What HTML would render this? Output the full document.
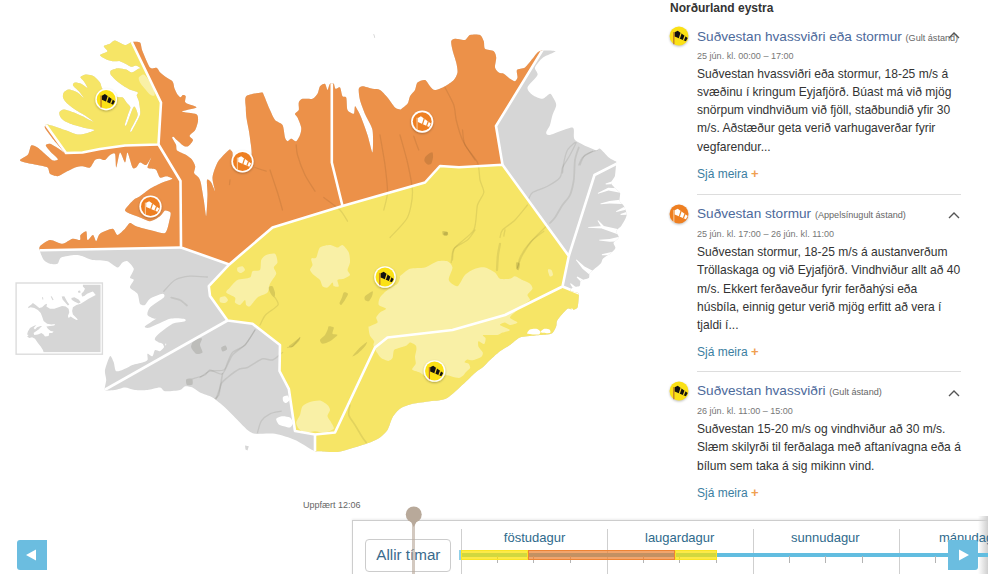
<!DOCTYPE html>
<html><head><meta charset="utf-8"><title>Vidvaranir</title>
<style>
html,body{margin:0;padding:0;background:#fff;}
body{width:992px;height:574px;position:relative;overflow:hidden;font-family:"Liberation Sans",sans-serif;color:#333;}
.abs{position:absolute;white-space:nowrap;}
.h1{left:17px;top:-12.7px;font-size:14.5px;font-weight:bold;color:#45608f;line-height:16px;}
.reg{left:670px;top:1px;font-size:12px;font-weight:bold;color:#333;line-height:14px;}
.ttl{left:697px;font-size:13.6px;color:#4d6a9b;line-height:16px;}
.ttl small{font-size:9.1px;color:#666;}
.dt{left:697px;font-size:9.05px;color:#777;line-height:10px;}
.bd{left:697px;font-size:12.05px;color:#333;line-height:18.25px;}
.more{left:697px;font-size:12px;color:#3b7ea1;line-height:14px;}
.more b{color:#f0a050;font-weight:bold;font-size:13px;}
.hr{position:absolute;left:697px;width:264px;height:1px;background:#ddd;}
.ic{position:absolute;left:668px;}
.chev{position:absolute;left:948px;}
.upd{left:303px;top:500px;font-size:9px;color:#666;line-height:10px;}
.tl{position:absolute;left:352.3px;top:519.6px;width:636px;height:60px;border-top:1.4px solid #cdcdcd;border-left:1.4px solid #cdcdcd;background:#fff;box-shadow:0 -1px 2px rgba(0,0,0,0.08);}
.btn{position:absolute;left:365px;top:539px;width:85.6px;height:32.6px;border:1px solid #ccc;border-radius:4px;box-sizing:border-box;}
.btn span{position:absolute;left:10.3px;top:6.3px;font-size:15.2px;color:#3a6a8c;line-height:18px;white-space:nowrap;}
.day{font-size:13px;color:#2f6a8c;top:529.5px;line-height:15px;}
.sep{position:absolute;width:1.2px;top:529px;height:45px;background:#cfcfcf;}
.tick{position:absolute;width:1px;top:556px;height:7px;background:#b4b4b4;}
.nav{position:absolute;top:540px;width:30px;height:30px;background:#6bbde0;}
</style></head><body>
<svg width="660" height="500" viewBox="0 0 660 500" style="position:absolute;left:0;top:0">
<defs><clipPath id="land"><path d="M20.0,160.0 C20.4,159.0 26.6,156.3 28.0,154.5 C29.4,152.7 30.1,146.4 31.2,145.5 C32.4,144.6 35.6,146.3 37.5,147.5 C39.4,148.7 44.3,153.4 46.2,155.0 C48.2,156.6 51.5,160.0 53.0,160.5 C54.5,161.0 58.2,160.2 58.0,159.2 C57.8,158.2 52.8,154.2 51.2,152.5 C49.7,150.8 45.9,146.6 45.8,145.5 C45.6,144.4 48.4,143.3 50.0,143.8 C51.6,144.2 56.9,147.7 58.8,148.8 C60.6,149.8 65.1,153.6 64.5,152.5 C63.9,151.4 56.2,143.1 53.8,140.0 C51.3,136.9 45.9,129.9 45.0,128.0 C44.1,126.1 45.4,124.7 46.5,124.5 C47.6,124.3 51.4,125.6 53.8,126.2 C56.1,126.9 62.0,129.0 65.0,130.0 C68.0,131.0 74.7,134.1 77.5,134.5 C80.3,134.9 85.4,133.6 87.5,133.0 C89.6,132.4 94.8,130.6 94.5,130.0 C94.2,129.4 87.8,128.7 85.0,128.0 C82.2,127.3 75.2,125.4 72.5,124.5 C69.8,123.6 65.3,121.5 63.8,120.5 C62.2,119.5 60.5,117.3 60.0,116.2 C59.5,115.2 59.0,112.8 59.5,112.0 C60.0,111.2 62.1,109.5 63.8,109.5 C65.4,109.5 70.2,111.2 72.5,112.0 C74.8,112.8 79.8,115.0 82.5,116.2 C85.2,117.5 93.3,122.0 93.8,122.0 C94.2,122.0 88.6,117.8 86.2,116.2 C83.9,114.7 77.5,111.2 75.0,109.5 C72.5,107.8 67.8,104.0 66.2,102.5 C64.8,101.0 63.3,98.8 63.0,97.5 C62.7,96.2 63.0,93.5 63.8,92.5 C64.5,91.5 67.0,89.5 68.8,89.5 C70.5,89.5 75.6,91.4 77.5,92.5 C79.4,93.6 83.5,98.1 83.8,98.0 C84.0,97.9 80.8,93.6 79.5,92.0 C78.2,90.4 73.6,86.7 73.0,85.5 C72.4,84.3 74.0,82.7 75.0,82.5 C76.0,82.3 79.7,83.1 81.2,83.8 C82.8,84.4 87.2,88.3 87.5,88.0 C87.8,87.7 84.6,82.6 83.8,81.2 C82.9,79.9 80.2,77.8 80.5,77.0 C80.8,76.2 84.6,74.6 86.2,74.5 C87.9,74.4 92.0,75.2 93.8,76.2 C95.5,77.2 98.8,80.8 100.0,82.5 C101.2,84.2 101.2,88.1 103.2,89.8 C105.3,91.6 114.0,95.9 116.5,96.8 C118.9,97.8 121.4,96.7 122.8,97.5 C124.1,98.3 126.0,101.9 126.9,103.1 C127.9,104.3 130.2,106.0 130.4,107.3 C130.6,108.6 129.0,111.4 128.3,113.5 C127.6,115.7 125.1,123.3 124.8,124.7 C124.6,126.1 125.6,126.4 126.5,124.7 C127.4,122.9 130.8,113.0 131.8,110.7 C132.8,108.5 133.7,106.6 134.3,106.6 C134.9,106.6 136.3,109.5 136.7,110.7 C137.1,112.0 138.2,113.9 137.4,116.3 C136.6,118.8 131.1,128.4 130.4,130.3 C129.7,132.1 130.7,132.7 131.8,131.0 C132.9,129.2 138.4,118.9 139.5,116.3 C140.5,113.8 140.3,112.7 140.2,110.7 C140.1,108.8 139.2,102.9 138.8,101.0 C138.3,99.1 136.8,96.4 136.7,95.4 C136.6,94.4 138.2,93.4 138.1,92.9 C138.0,92.4 137.0,91.9 136.0,91.5 C135.0,91.1 132.2,90.7 130.4,89.8 C128.7,89.0 124.0,86.3 122.1,85.0 C120.1,83.7 116.5,80.7 115.1,79.4 C113.7,78.1 111.1,75.6 110.6,74.5 C110.1,73.4 110.0,71.4 110.9,70.6 C111.8,69.8 116.0,68.4 117.9,68.2 C119.8,68.1 124.5,69.1 126.2,69.6 C128.0,70.2 130.3,72.5 131.8,72.4 C133.3,72.3 137.0,69.5 138.1,68.9 C139.2,68.4 140.7,68.7 140.5,68.2 C140.2,67.8 137.1,65.6 136.0,65.5 C134.9,65.3 133.2,67.1 131.8,66.8 C130.4,66.6 126.3,64.1 124.8,63.4 C123.4,62.7 120.8,61.8 120.0,61.3 C119.1,60.7 117.6,59.3 117.9,59.2 C118.2,59.1 123.2,60.2 122.5,60.5 C121.8,60.8 114.7,61.5 112.5,61.2 C110.3,61.0 106.6,59.5 105.0,58.8 C103.4,58.0 99.7,55.9 100.0,55.0 C100.3,54.1 107.0,52.3 107.5,51.2 C108.0,50.2 103.4,47.2 103.8,46.2 C104.1,45.3 108.6,44.5 110.0,43.8 C111.4,43.0 113.1,40.3 115.0,40.5 C116.9,40.7 122.9,44.8 125.0,45.0 C127.1,45.2 129.9,42.3 131.8,42.0 C133.6,41.7 138.7,41.3 140.0,42.5 C141.3,43.7 141.2,48.1 142.5,51.2 C143.8,54.4 148.2,65.4 150.0,67.5 C151.8,69.6 155.5,67.3 156.8,67.9 C158.1,68.5 159.0,71.3 160.2,72.4 C161.3,73.6 164.3,75.8 165.8,77.0 C167.4,78.1 171.5,80.1 172.6,81.5 C173.7,82.9 173.9,86.7 174.4,88.3 C175.0,89.8 176.4,92.8 177.1,93.9 C177.9,95.1 179.8,97.2 180.5,97.3 C181.2,97.5 182.2,95.2 182.8,95.1 C183.5,94.9 185.5,95.4 185.7,96.2 C186.0,97.0 184.7,100.9 185.1,101.9 C185.4,102.8 187.0,103.4 188.5,104.1 C189.9,104.8 197.2,106.6 196.4,107.5 C195.5,108.4 181.7,110.7 181.7,111.6 C181.7,112.4 194.3,113.1 196.4,114.3 C198.4,115.5 198.1,119.1 198.0,121.1 C197.8,123.1 196.3,128.3 195.2,130.1 C194.2,132.0 189.9,134.5 189.6,135.8 C189.3,137.1 193.1,139.0 193.0,140.3 C192.8,141.6 189.6,145.3 188.5,146.0 C187.3,146.7 185.4,146.7 183.9,146.0 C182.5,145.3 178.4,141.4 177.1,140.3 C175.9,139.2 174.4,137.2 173.8,136.9 C173.1,136.6 171.9,137.1 172.2,138.1 C172.5,139.0 175.4,143.3 176.0,144.8 C176.6,146.4 175.9,149.2 177.1,150.5 C178.4,151.8 184.4,153.9 186.2,155.0 C188.0,156.2 190.7,158.1 191.9,159.5 C193.0,161.0 195.0,164.6 195.2,166.3 C195.5,168.0 193.7,171.7 194.1,173.1 C194.5,174.5 197.8,176.4 198.6,177.6 C199.5,178.9 200.3,180.5 200.9,183.3 C201.5,186.1 203.1,195.9 203.8,200.0 C204.4,204.1 205.8,216.9 206.2,216.2 C206.7,215.6 207.4,199.5 207.5,195.0 C207.6,190.5 206.5,181.6 207.0,180.0 C207.5,178.4 210.2,181.1 211.2,182.5 C212.2,183.9 214.8,191.9 215.0,191.2 C215.2,190.6 212.2,181.1 212.5,177.5 C212.8,173.9 215.8,165.6 217.5,162.5 C219.2,159.4 224.5,154.2 226.2,152.5 C228.0,150.8 231.4,148.8 231.2,148.8 C231.1,148.8 225.2,152.3 225.0,152.5 C224.8,152.7 229.1,150.0 230.0,150.0 C230.9,150.0 232.1,151.1 232.5,152.3 C232.8,153.4 232.4,157.7 233.0,159.2 C233.5,160.8 235.0,164.1 236.8,164.8 C238.6,165.5 245.5,165.5 247.3,164.8 C249.1,164.1 250.6,160.8 251.1,159.2 C251.6,157.7 251.7,154.2 251.6,152.3 C251.6,150.3 251.1,146.2 250.7,143.6 C250.4,140.9 249.6,134.6 249.0,131.4 C248.5,128.1 246.8,120.4 246.4,117.4 C246.0,114.4 245.8,110.1 245.8,107.5 C245.7,104.9 244.3,98.1 246.2,96.2 C248.2,94.4 259.1,92.7 261.2,92.5 C263.4,92.3 262.7,92.8 263.8,95.0 C264.8,97.2 268.6,106.9 270.0,110.0 C271.4,113.1 273.4,118.1 275.0,120.0 C276.6,121.9 281.2,122.8 282.5,125.0 C283.8,127.2 284.4,135.5 285.0,137.5 C285.6,139.5 286.7,141.1 287.5,141.2 C288.3,141.4 290.2,138.8 291.2,138.8 C292.3,138.8 295.2,141.7 296.2,141.2 C297.3,140.8 299.4,136.7 300.0,135.0 C300.6,133.3 301.6,129.7 301.2,127.5 C300.9,125.3 298.3,119.2 297.5,117.5 C296.7,115.8 294.8,114.7 295.0,113.8 C295.2,112.8 298.3,111.4 298.8,110.0 C299.2,108.6 298.3,103.9 298.8,102.5 C299.2,101.1 300.8,99.2 302.5,98.8 C304.2,98.3 310.6,99.4 312.5,98.8 C314.4,98.1 316.6,95.3 317.5,93.8 C318.4,92.2 319.1,87.5 320.0,86.2 C320.9,85.0 324.1,83.3 325.0,83.8 C325.9,84.2 326.9,90.0 327.5,90.0 C328.1,90.0 329.2,84.5 330.0,83.8 C330.8,83.0 333.1,83.1 333.8,83.8 C334.4,84.4 334.7,88.3 335.5,88.8 C336.3,89.2 339.1,86.6 340.0,87.5 C340.9,88.4 341.7,95.0 342.5,96.2 C343.3,97.5 345.6,95.8 346.2,97.5 C346.9,99.2 346.6,108.0 347.5,110.0 C348.4,112.0 352.8,114.2 353.8,113.8 C354.7,113.3 354.5,106.7 355.0,106.2 C355.5,105.8 356.7,108.6 357.5,110.0 C358.3,111.4 360.0,114.4 361.2,117.5 C362.5,120.6 366.1,130.6 367.5,135.0 C368.9,139.4 371.9,153.1 372.5,152.5 C373.1,151.9 373.4,134.7 372.5,130.0 C371.6,125.3 367.1,118.8 365.5,115.0 C363.9,111.2 360.8,103.3 360.0,100.0 C359.2,96.7 358.4,90.5 358.8,88.8 C359.1,87.0 360.8,86.2 362.5,86.2 C364.2,86.2 370.3,88.3 372.5,88.8 C374.7,89.2 378.1,88.9 380.0,90.0 C381.9,91.1 385.6,95.3 387.5,97.5 C389.4,99.7 393.4,106.0 395.0,107.5 C396.6,109.0 399.4,109.2 400.0,109.5 C400.6,109.8 399.1,110.7 400.0,110.0 C400.9,109.3 406.2,105.5 407.5,103.8 C408.8,102.0 409.1,98.0 410.0,96.2 C410.9,94.5 414.1,91.7 415.0,90.0 C415.9,88.3 416.2,83.8 417.5,82.5 C418.8,81.2 423.4,79.5 425.0,80.0 C426.6,80.5 428.8,85.0 430.0,86.2 C431.2,87.5 433.1,90.0 435.0,90.0 C436.9,90.0 442.7,87.5 445.0,86.2 C447.3,85.0 452.2,81.7 453.8,80.0 C455.3,78.3 457.2,74.7 457.5,72.5 C457.8,70.3 456.9,65.3 456.2,62.5 C455.6,59.7 453.1,52.7 452.5,50.0 C451.9,47.3 450.9,42.7 451.2,41.2 C451.6,39.8 453.3,38.9 455.0,38.8 C456.7,38.6 463.1,40.5 465.0,40.0 C466.9,39.5 468.1,35.6 470.0,35.0 C471.9,34.4 478.3,34.2 480.0,35.0 C481.7,35.8 483.1,39.5 483.8,41.2 C484.4,43.0 483.8,47.5 485.0,48.8 C486.2,50.0 492.3,50.2 493.8,51.2 C495.2,52.3 496.1,55.5 496.2,57.5 C496.4,59.5 494.7,65.6 495.0,67.5 C495.3,69.4 497.7,71.7 498.8,72.5 C499.8,73.3 502.3,73.0 503.8,73.8 C505.2,74.5 508.6,77.8 510.0,78.8 C511.4,79.7 514.1,81.4 515.0,81.2 C515.9,81.1 517.2,78.9 517.5,77.5 C517.8,76.1 516.1,71.2 517.0,70.0 C517.9,68.8 523.1,68.9 525.0,67.5 C526.9,66.1 530.9,60.6 532.5,58.8 C534.1,56.9 536.2,53.5 537.5,52.5 C538.8,51.5 540.2,50.7 542.5,50.5 C544.8,50.3 555.4,50.4 555.5,51.2 C555.6,52.1 545.6,55.5 543.0,57.5 C540.4,59.5 535.7,65.3 535.0,67.5 C534.3,69.7 538.4,72.5 537.5,75.0 C536.6,77.5 528.1,85.0 527.5,87.5 C526.9,90.0 530.6,93.6 532.5,95.0 C534.4,96.4 540.3,98.9 542.5,98.8 C544.7,98.6 548.7,93.9 550.0,93.8 C551.3,93.6 552.2,96.1 553.0,97.5 C553.8,98.9 556.3,102.8 556.2,105.0 C556.2,107.2 553.3,112.5 552.5,115.0 C551.7,117.5 550.8,122.8 550.0,125.0 C549.2,127.2 546.2,131.2 546.2,132.5 C546.2,133.8 546.7,135.6 550.0,135.0 C553.3,134.4 569.4,126.9 572.5,127.5 C575.6,128.1 572.2,137.2 575.0,140.0 C577.8,142.8 591.9,148.9 595.0,150.0 C598.1,151.1 598.3,147.8 600.0,148.8 C601.7,149.7 606.8,155.9 608.8,157.5 C610.7,159.1 614.6,160.7 615.5,161.2 C616.4,161.8 616.3,159.9 616.2,161.8 C616.1,163.6 615.5,173.5 614.9,176.1 C614.2,178.7 610.8,181.0 611.0,182.7 C611.1,184.3 615.0,187.9 616.2,189.2 C617.3,190.5 619.7,191.6 620.1,193.1 C620.5,194.6 619.1,199.3 619.6,201.0 C620.1,202.6 623.1,204.4 624.0,206.2 C624.9,208.0 627.0,212.9 626.6,215.3 C626.3,217.8 622.7,223.8 621.4,225.8 C620.1,227.7 616.5,229.5 616.2,231.0 C615.9,232.5 619.1,236.1 618.8,237.5 C618.5,239.0 614.0,241.5 613.6,242.8 C613.1,244.1 615.7,246.7 615.4,248.0 C615.1,249.3 612.5,251.9 611.0,253.2 C609.4,254.5 604.4,257.1 603.1,258.4 C601.8,259.7 602.1,261.9 600.5,263.7 C598.9,265.5 591.5,271.0 590.0,272.8 C588.6,274.6 589.9,277.1 588.7,278.0 C587.6,279.0 582.0,279.7 580.9,280.7 C579.8,281.6 580.6,285.1 579.6,285.9 C578.6,286.7 574.2,286.5 573.1,287.2 C571.9,287.8 569.8,290.4 570.5,291.1 C571.1,291.9 577.3,292.5 578.3,293.2 C579.3,293.8 578.8,294.5 578.8,296.2 C578.7,298.0 578.3,305.8 577.5,307.5 C576.7,309.2 573.8,309.8 572.5,310.0 C571.2,310.2 569.4,307.5 567.5,308.8 C565.6,310.0 558.9,317.8 557.5,320.0 C556.1,322.2 556.9,324.6 556.2,326.2 C555.6,327.9 553.6,332.0 552.5,333.0 C551.4,334.0 549.7,334.2 547.5,334.5 C545.3,334.8 538.4,335.1 535.0,335.5 C531.6,335.9 523.1,336.3 520.0,337.5 C516.9,338.7 512.5,343.3 510.0,345.0 C507.5,346.7 502.5,349.4 500.0,351.2 C497.5,353.1 492.2,358.0 490.0,360.0 C487.8,362.0 484.4,365.9 482.5,367.5 C480.6,369.1 479.3,369.2 475.0,373.0 C470.7,376.8 453.6,394.0 448.0,397.5 C442.4,401.0 434.4,400.5 430.0,401.2 C425.6,402.0 416.2,402.8 412.5,403.8 C408.8,404.7 402.5,407.0 400.0,408.8 C397.5,410.5 394.1,414.8 392.5,417.5 C390.9,420.2 389.1,427.5 387.5,430.0 C385.9,432.5 382.2,435.9 380.0,437.5 C377.8,439.1 373.8,441.1 370.0,442.5 C366.2,443.9 354.1,447.6 350.0,448.8 C345.9,449.9 341.2,451.7 337.5,452.0 C333.8,452.3 322.8,451.3 320.0,451.2 C317.2,451.2 316.2,451.6 315.0,451.2 C313.8,450.9 312.5,450.2 310.0,448.8 C307.5,447.3 299.4,441.9 295.0,440.0 C290.6,438.1 280.0,434.5 275.0,433.8 C270.0,433.0 258.4,434.2 255.0,433.8 C251.6,433.3 249.7,431.7 247.5,430.0 C245.3,428.3 240.3,422.8 237.5,420.0 C234.7,417.2 228.1,410.3 225.0,407.5 C221.9,404.7 215.6,399.4 212.5,397.5 C209.4,395.6 202.5,393.8 200.0,392.5 C197.5,391.2 194.4,388.3 192.5,387.5 C190.6,386.7 186.6,385.9 185.0,386.2 C183.4,386.6 182.5,389.4 180.0,390.0 C177.5,390.6 167.5,391.6 165.0,391.2 C162.5,390.9 162.2,387.7 160.0,387.5 C157.8,387.3 150.6,389.7 147.5,390.0 C144.4,390.3 137.8,390.3 135.0,390.0 C132.2,389.7 127.5,387.5 125.0,387.5 C122.5,387.5 117.5,389.7 115.0,390.0 C112.5,390.3 106.1,391.2 105.0,390.0 C103.9,388.8 106.2,382.5 106.2,380.0 C106.2,377.5 104.5,373.0 105.0,370.0 C105.5,367.0 108.9,357.2 110.0,356.2 C111.1,355.3 113.0,360.6 113.8,362.5 C114.5,364.4 114.8,370.5 116.2,371.2 C117.7,372.0 123.0,369.5 125.0,368.8 C127.0,368.0 130.3,365.8 132.5,365.0 C134.7,364.2 140.6,363.1 142.5,362.5 C144.4,361.9 146.9,361.1 147.5,360.0 C148.1,358.9 146.9,354.2 147.5,353.8 C148.1,353.3 151.6,356.7 152.5,356.2 C153.4,355.8 154.1,350.6 155.0,350.0 C155.9,349.4 158.9,351.6 160.0,351.2 C161.1,350.9 163.0,348.4 163.8,347.5 C164.5,346.6 166.9,344.4 166.2,343.8 C165.6,343.1 160.0,343.3 158.8,342.5 C157.5,341.7 155.5,339.1 156.2,337.5 C157.0,335.9 163.9,328.7 165.0,330.0 C166.1,331.3 165.3,346.3 165.0,348.0 C164.7,349.7 163.8,344.8 162.5,343.8 C161.2,342.8 155.6,341.1 155.0,340.0 C154.4,338.9 155.3,337.0 157.5,335.0 C159.7,333.0 169.1,325.5 172.5,323.8 C175.9,322.0 183.6,321.9 185.0,321.2 C186.4,320.6 185.6,319.1 183.8,318.8 C181.9,318.4 174.2,317.7 170.0,318.8 C165.8,319.8 153.1,326.6 150.0,327.5 C146.9,328.4 143.8,327.7 145.0,326.2 C146.2,324.8 158.8,317.2 160.0,316.2 C161.2,315.3 156.6,318.9 155.0,318.8 C153.4,318.6 148.1,316.4 147.5,315.0 C146.9,313.6 148.0,309.7 150.0,307.5 C152.0,305.3 162.2,299.2 163.8,297.5 C165.3,295.8 164.2,293.6 162.5,293.8 C160.8,293.9 152.2,297.3 150.0,298.8 C147.8,300.2 146.2,304.4 145.0,305.0 C143.8,305.6 140.9,305.2 140.0,303.8 C139.1,302.3 138.8,295.8 137.5,293.8 C136.2,291.7 130.5,289.2 130.0,287.5 C129.5,285.8 133.8,281.2 133.8,280.0 C133.8,278.8 130.0,278.9 130.0,277.5 C130.0,276.1 134.1,270.8 133.8,268.8 C133.4,266.7 128.9,262.0 127.5,261.2 C126.1,260.5 123.8,261.7 122.5,262.5 C121.2,263.3 119.4,267.7 117.5,267.5 C115.6,267.3 110.6,262.2 107.5,261.2 C104.4,260.3 95.6,260.6 92.5,260.0 C89.4,259.4 84.7,256.9 82.5,256.2 C80.3,255.6 77.7,254.8 75.0,255.0 C72.3,255.2 63.4,256.4 61.2,257.5 C59.1,258.6 58.9,263.0 57.5,263.8 C56.1,264.5 51.7,264.2 50.0,263.8 C48.3,263.3 45.0,261.6 43.8,260.0 C42.5,258.4 40.5,253.0 40.0,251.2 C39.5,249.5 38.8,247.7 40.0,246.2 C41.2,244.8 47.2,240.3 50.0,240.0 C52.8,239.7 59.7,243.9 62.5,243.8 C65.3,243.6 70.3,239.2 72.5,238.8 C74.7,238.3 79.0,240.5 80.0,240.0 C81.0,239.5 79.7,236.1 80.5,235.0 C81.3,233.9 85.4,230.6 86.2,231.2 C87.1,231.9 86.7,239.5 87.5,240.0 C88.3,240.5 91.9,234.8 93.0,235.0 C94.1,235.2 95.4,241.4 96.2,241.2 C97.1,241.1 98.0,235.3 100.0,233.8 C102.0,232.2 110.3,228.6 112.5,228.8 C114.7,228.9 115.9,235.0 117.5,235.0 C119.1,235.0 123.4,230.2 125.0,228.8 C126.6,227.2 128.6,223.3 130.0,223.0 C131.4,222.7 133.8,225.4 136.2,226.2 C138.8,227.1 146.4,229.2 150.0,230.0 C153.6,230.8 162.6,234.2 165.0,233.0 C167.4,231.8 168.8,222.6 169.5,220.0 C170.2,217.4 171.1,213.7 170.5,212.5 C169.9,211.3 166.3,210.0 165.0,210.5 C163.7,211.0 161.9,214.9 160.0,216.2 C158.1,217.6 152.5,221.1 150.0,221.2 C147.5,221.4 142.5,218.4 140.0,217.5 C137.5,216.6 131.9,214.6 130.0,213.8 C128.1,212.9 125.2,211.6 125.0,210.5 C124.8,209.4 127.5,206.5 128.8,205.0 C130.0,203.5 133.6,199.8 135.0,198.8 C136.4,197.7 138.1,197.5 140.0,196.2 C141.9,195.0 147.2,190.5 150.0,188.8 C152.8,187.0 159.7,183.8 162.5,182.5 C165.3,181.2 172.0,179.5 172.5,178.8 C173.0,178.0 167.8,176.4 166.2,176.2 C164.7,176.1 161.2,178.3 160.0,177.5 C158.8,176.7 157.2,171.1 156.2,170.0 C155.3,168.9 153.6,169.1 152.5,168.8 C151.4,168.4 147.7,168.9 147.5,167.5 C147.3,166.1 151.4,157.8 151.2,157.5 C151.1,157.2 147.7,164.4 146.2,165.0 C144.8,165.6 141.2,162.2 140.0,162.5 C138.8,162.8 137.2,166.9 136.2,167.5 C135.3,168.1 133.6,169.4 132.5,167.5 C131.4,165.6 128.4,153.1 127.5,152.5 C126.6,151.9 125.9,162.5 125.0,162.5 C124.1,162.5 121.1,151.9 120.0,152.5 C118.9,153.1 116.9,167.3 116.2,167.5 C115.6,167.7 115.8,155.3 115.0,153.8 C114.2,152.2 111.2,154.2 110.0,155.0 C108.8,155.8 106.2,159.5 105.0,160.0 C103.8,160.5 101.2,158.8 100.0,158.8 C98.8,158.8 96.2,158.9 95.0,160.0 C93.8,161.1 91.6,166.7 90.0,167.5 C88.4,168.3 84.4,166.2 82.5,166.2 C80.6,166.2 77.2,166.7 75.0,167.5 C72.8,168.3 67.2,171.4 65.0,172.5 C62.8,173.6 59.4,176.1 57.5,176.2 C55.6,176.4 51.2,174.8 50.0,173.8 C48.8,172.7 49.1,168.6 47.5,167.5 C45.9,166.4 40.3,165.6 37.5,165.0 C34.7,164.4 27.2,163.1 25.0,162.5 C22.8,161.9 19.6,161.0 20.0,160.0Z"/><path d="M245.0,445.5 L248.8,446.2 L247.5,450.5 L245.5,449.5Z"/></clipPath>
<filter id="sh" x="-30%" y="-30%" width="160%" height="160%"><feDropShadow dx="0" dy="1" stdDeviation="0.8" flood-color="#000" flood-opacity="0.3"/></filter>
</defs>
<g clip-path="url(#land)">
<rect x="0" y="0" width="660" height="500" fill="#d6d6d6"/>
<path d="M131.8,42.0 L161.0,102.5 L158.5,144.5 L125.0,145.5 L100.0,149.0 L82.5,152.5 L66.0,153.0 L46.0,125.0 L0.0,60.0 L0.0,0.0 L118.0,0.0Z" fill="#f6e566"/>
<path d="M158.5,144.5 L180.5,181.0 L181.0,247.5 L0.0,250.5 L0.0,60.0 L46.0,125.0 L66.0,153.0 L82.5,152.5 L100.0,149.0 L125.0,145.5Z" fill="#ec9149"/>
<path d="M118.0,0.0 L131.8,42.0 L161.0,102.5 L158.5,144.5 L180.5,181.0 L181.0,247.5 L229.3,264.4 L272.5,227.5 L342.5,206.0 L331.8,162.5 L331.8,0.0Z" fill="#ec9149"/>
<path d="M331.8,0.0 L331.8,162.5 L342.5,206.0 L425.0,182.5 L440.0,166.0 L459.0,167.2 L502.5,164.8 L496.0,126.0 L545.0,46.0 L560.0,0.0Z" fill="#ec9149"/>
<path d="M229.3,264.4 L272.5,227.5 L342.5,206.0 L425.0,182.5 L440.0,166.0 L459.0,167.2 L502.5,164.8 L568.8,256.0 L562.5,286.5 L505.0,315.0 L452.5,330.0 L387.5,337.5 L375.0,347.5 L335.0,432.5 L315.0,434.5 L295.0,431.0 L288.8,388.8 L279.5,371.0 L280.0,345.0 L252.5,323.8 L227.5,320.5 L210.0,296.0 L208.8,286.2Z" fill="#f6e566"/>
<path d="M562.5,286.5 L505.0,315.0 L452.5,330.0 L387.5,337.5 L375.0,347.5 L335.0,432.5 L315.0,434.5 L315.0,470.0 L600.0,470.0 L600.0,300.0Z" fill="#f6e566"/>
<path d="M275.0,253.8 C276.4,254.7 277.7,260.8 277.5,262.5 C277.3,264.2 273.9,266.1 273.8,267.5 C273.6,268.9 276.7,271.7 276.2,273.8 C275.8,275.8 271.1,281.4 270.0,283.8 C268.9,286.1 269.1,290.8 267.5,292.5 C265.9,294.2 259.7,295.8 257.5,297.5 C255.3,299.2 251.4,305.3 250.0,306.2 C248.6,307.2 246.9,305.8 246.2,305.0 C245.6,304.2 245.8,300.0 245.0,300.0 C244.2,300.0 241.2,304.7 240.0,305.0 C238.8,305.3 235.6,303.4 235.0,302.5 C234.4,301.6 236.1,298.8 235.0,297.5 C233.9,296.2 226.9,293.8 226.2,292.5 C225.6,291.2 228.6,289.1 230.0,287.5 C231.4,285.9 235.0,281.2 237.5,280.0 C240.0,278.8 248.1,278.6 250.0,277.5 C251.9,276.4 251.2,272.2 252.5,271.2 C253.8,270.3 258.9,271.4 260.0,270.0 C261.1,268.6 260.5,261.9 261.2,260.0 C262.0,258.1 264.5,255.8 266.2,255.0 C268.0,254.2 273.6,252.8 275.0,253.8Z" fill="#f9f0a6"/>
<path d="M237.5,267.5 C238.1,266.9 241.6,265.9 242.5,266.2 C243.4,266.6 245.2,269.2 245.0,270.0 C244.8,270.8 242.2,272.8 241.2,273.0 C240.3,273.2 238.0,271.9 237.5,271.2 C237.0,270.6 236.9,268.1 237.5,267.5Z" fill="#f9f0a6"/>
<path d="M220.0,297.5 C220.6,296.8 224.0,295.9 225.0,296.2 C226.0,296.6 228.0,299.2 228.0,300.0 C228.0,300.8 226.0,302.8 225.0,303.0 C224.0,303.2 220.6,302.7 220.0,302.0 C219.4,301.3 219.4,298.2 220.0,297.5Z" fill="#f9f0a6"/>
<path d="M320.0,247.5 C321.7,245.9 327.8,245.0 330.0,245.0 C332.2,245.0 335.9,247.5 337.5,247.5 C339.1,247.5 341.1,244.4 342.5,245.0 C343.9,245.6 347.8,250.3 348.8,252.5 C349.7,254.7 350.2,260.3 350.0,262.5 C349.8,264.7 347.5,268.4 347.5,270.0 C347.5,271.6 350.5,273.9 350.0,275.0 C349.5,276.1 345.3,278.1 343.8,278.8 C342.2,279.4 338.1,279.1 337.5,280.0 C336.9,280.9 339.2,285.5 338.8,286.2 C338.3,287.0 334.5,286.7 333.8,286.2 C333.0,285.8 333.3,282.3 332.5,282.5 C331.7,282.7 328.8,287.0 327.5,287.5 C326.2,288.0 323.4,287.2 322.5,286.2 C321.6,285.3 321.1,281.4 320.0,280.0 C318.9,278.6 315.0,276.2 313.8,275.0 C312.5,273.8 310.2,271.2 310.0,270.0 C309.8,268.8 312.3,266.4 312.5,265.0 C312.7,263.6 310.8,259.7 311.2,258.8 C311.7,257.8 315.2,258.9 316.2,257.5 C317.3,256.1 318.3,249.1 320.0,247.5Z" fill="#f9f0a6"/>
<path d="M400.0,277.5 C399.7,278.4 399.1,282.2 397.5,283.8 C395.9,285.3 389.7,288.3 387.5,290.0 C385.3,291.7 381.1,295.6 380.0,297.5 C378.9,299.4 378.0,303.6 378.8,305.0 C379.5,306.4 386.1,307.8 386.2,308.8 C386.4,309.7 381.2,311.4 380.0,312.5 C378.8,313.6 376.6,316.2 376.2,317.5 C375.9,318.8 378.3,321.4 377.5,322.5 C376.7,323.6 371.1,325.7 370.0,326.2 C368.9,326.8 368.5,325.9 368.5,327.1 C368.5,328.2 369.2,333.8 369.9,335.5 C370.6,337.3 373.7,339.9 374.1,341.2 C374.6,342.4 373.1,344.0 373.4,345.4 C373.8,346.8 376.0,350.9 376.9,352.5 C377.9,354.0 379.8,357.0 381.2,358.1 C382.6,359.2 386.8,360.9 388.2,360.9 C389.6,360.9 391.8,359.4 392.5,358.1 C393.2,356.8 393.2,351.6 393.9,350.3 C394.6,349.1 396.5,348.8 398.1,348.2 C399.7,347.6 405.1,346.1 406.6,345.4 C408.1,344.7 409.0,342.6 410.1,342.6 C411.2,342.6 414.9,344.5 415.7,345.4 C416.5,346.3 416.5,348.2 416.4,349.6 C416.4,351.0 415.1,354.9 415.0,356.7 C414.9,358.5 416.1,362.2 415.7,363.7 C415.4,365.3 411.8,368.3 412.2,369.4 C412.7,370.5 417.5,371.4 419.3,372.2 C421.0,373.0 423.2,375.4 426.3,375.7 C429.5,376.1 441.5,374.9 444.7,375.0 C447.8,375.1 450.0,376.1 451.7,376.4 C453.5,376.8 457.4,377.9 458.8,377.9 C460.2,377.8 462.1,376.4 463.0,375.7 C463.9,375.0 465.0,373.2 465.8,372.2 C466.7,371.2 469.7,369.0 470.1,368.0 C470.4,366.9 469.4,364.5 468.7,363.7 C468.0,363.0 464.6,362.9 464.4,362.3 C464.3,361.8 466.2,359.8 467.3,359.5 C468.3,359.2 471.1,360.6 472.9,360.2 C474.7,359.9 480.1,357.7 481.4,356.7 C482.6,355.7 483.1,353.7 482.8,352.5 C482.4,351.2 479.1,348.2 478.5,346.8 C478.0,345.4 477.8,341.5 478.5,341.2 C479.2,340.8 483.3,344.3 484.2,344.0 C485.1,343.6 485.8,339.4 485.6,338.3 C485.4,337.3 482.9,335.9 482.8,335.5 C482.7,335.1 483.2,335.1 485.0,335.0 C486.8,334.9 495.3,335.3 497.5,335.0 C499.7,334.7 500.9,333.1 502.5,332.5 C504.1,331.9 510.3,330.9 510.0,330.0 C509.7,329.1 500.6,325.9 500.0,325.0 C499.4,324.1 503.8,322.5 505.0,322.5 C506.2,322.5 508.4,325.0 510.0,325.0 C511.6,325.0 517.5,323.4 517.5,322.5 C517.5,321.6 510.0,319.1 510.0,317.5 C510.0,315.9 515.9,311.6 517.5,310.0 C519.1,308.4 520.9,306.2 522.5,305.0 C524.1,303.8 529.4,301.2 530.0,300.0 C530.6,298.8 527.2,296.4 527.5,295.0 C527.8,293.6 532.2,290.2 532.5,288.8 C532.8,287.3 531.2,284.8 530.0,283.8 C528.8,282.7 524.4,280.9 522.5,280.0 C520.6,279.1 516.6,276.4 515.0,276.2 C513.4,276.1 511.9,278.4 510.0,278.8 C508.1,279.1 501.9,279.5 500.0,278.8 C498.1,278.0 496.9,273.9 495.0,272.5 C493.1,271.1 487.5,268.0 485.0,267.5 C482.5,267.0 477.5,267.8 475.0,268.8 C472.5,269.7 467.2,272.8 465.0,275.0 C462.8,277.2 459.5,285.6 457.5,286.2 C455.5,286.9 449.4,282.3 448.8,280.0 C448.1,277.7 452.7,269.8 452.5,267.5 C452.3,265.2 449.4,262.0 447.5,261.2 C445.6,260.5 440.3,260.5 437.5,261.2 C434.7,262.0 428.4,266.6 425.0,267.5 C421.6,268.4 413.1,267.7 410.0,268.8 C406.9,269.8 401.2,275.2 400.0,276.2 C398.8,277.3 400.3,276.6 400.0,277.5Z" fill="#f9f0a6"/>
<path d="M296.2,422.5 C296.4,420.8 299.2,417.0 300.0,415.0 C300.8,413.0 301.2,407.9 302.5,406.2 C303.8,404.6 307.8,402.7 310.0,402.0 C312.2,401.3 317.8,400.1 320.0,400.5 C322.2,400.9 326.2,403.8 327.5,405.0 C328.8,406.2 330.0,408.6 330.0,410.0 C330.0,411.4 327.3,414.7 327.5,416.2 C327.7,417.8 330.5,420.9 331.2,422.5 C332.0,424.1 334.5,427.5 333.8,428.8 C333.0,430.0 327.3,432.2 325.0,432.5 C322.7,432.8 317.5,431.2 315.0,431.2 C312.5,431.2 307.0,432.8 305.0,432.5 C303.0,432.2 299.8,430.0 298.8,428.8 C297.7,427.5 296.1,424.2 296.2,422.5Z" fill="#f9f0a6"/>
<path d="M138.8,77.5 C139.2,76.5 142.5,74.2 143.8,74.5 C145.0,74.8 147.5,78.2 148.8,80.0 C150.0,81.8 153.0,86.8 153.8,88.8 C154.5,90.7 155.0,94.8 154.5,95.5 C154.0,96.2 151.3,95.5 150.0,94.5 C148.7,93.5 145.0,89.0 143.8,87.5 C142.5,86.0 140.6,83.8 140.0,82.5 C139.4,81.2 138.3,78.5 138.8,77.5Z" fill="#f9f0a6"/>
<path d="M548.0,269.5 C548.4,269.1 550.9,269.3 551.5,270.0 C552.1,270.7 553.2,274.2 553.0,275.0 C552.8,275.8 550.6,276.8 550.0,276.5 C549.4,276.2 548.8,273.9 548.5,273.0 C548.2,272.1 547.6,269.9 548.0,269.5Z" fill="#f9f0a6"/>
<path d="M276.2,418.8 C276.7,417.7 280.8,416.4 282.5,416.2 C284.2,416.1 288.7,416.7 290.0,417.5 C291.3,418.3 293.0,421.8 293.0,423.0 C293.0,424.2 291.2,427.1 290.0,427.5 C288.8,427.9 285.2,426.6 283.8,426.2 C282.3,425.9 279.7,425.4 278.8,424.5 C277.8,423.6 275.8,419.8 276.2,418.8Z" fill="#fff"/>
<path d="M283.0,397.0 C283.5,396.3 286.7,395.1 287.5,395.5 C288.3,395.9 289.7,399.1 289.5,400.0 C289.3,400.9 287.0,402.8 286.2,403.0 C285.5,403.2 283.7,402.0 283.2,401.2 C282.8,400.5 282.5,397.7 283.0,397.0Z" fill="#fff"/>
<path d="M268.8,287.0 C269.1,286.4 271.7,285.6 272.5,286.2 C273.3,286.9 274.8,291.1 275.0,292.5 C275.2,293.9 274.9,297.1 274.5,297.5 C274.1,297.9 272.6,296.3 272.0,295.5 C271.4,294.7 269.9,292.3 269.5,291.2 C269.1,290.2 268.4,287.6 268.8,287.0Z" fill="rgba(20,20,0,0.13)"/>
<path d="M343.8,292.5 C344.5,292.0 347.8,292.8 348.0,293.8 C348.2,294.7 345.8,298.6 345.0,300.0 C344.2,301.4 341.9,304.6 341.2,305.0 C340.6,305.4 339.4,303.9 339.5,303.0 C339.6,302.1 341.5,298.8 342.0,297.5 C342.5,296.2 343.0,293.0 343.8,292.5Z" fill="rgba(20,20,0,0.13)"/>
<path d="M365.0,296.2 C365.9,295.2 371.6,291.2 372.5,291.2 C373.4,291.2 372.5,295.0 372.0,296.2 C371.5,297.5 369.6,300.8 368.8,301.2 C367.9,301.7 365.5,300.6 365.0,300.0 C364.5,299.4 364.1,297.3 365.0,296.2Z" fill="rgba(20,20,0,0.13)"/>
<path d="M328.8,326.2 C329.5,325.9 333.3,326.6 333.8,327.5 C334.2,328.4 332.0,332.8 332.5,333.8 C333.0,334.7 337.8,334.1 337.5,335.0 C337.2,335.9 331.9,340.2 330.0,341.2 C328.1,342.3 323.8,343.9 322.5,343.8 C321.2,343.6 319.7,341.1 320.0,340.0 C320.3,338.9 324.1,336.2 325.0,335.0 C325.9,333.8 327.0,331.1 327.5,330.0 C328.0,328.9 328.0,326.6 328.8,326.2Z" fill="rgba(20,20,0,0.13)"/>
<path d="M352.5,356.2 C352.8,355.5 358.2,349.3 360.0,347.5 C361.8,345.7 366.4,342.2 367.0,342.0 C367.6,341.8 366.2,344.8 365.0,346.2 C363.8,347.7 359.1,352.5 357.5,353.8 C355.9,355.0 352.2,357.0 352.5,356.2Z" fill="rgba(20,20,0,0.13)"/>
<path d="M288.8,346.2 C289.1,345.5 293.6,342.3 295.0,341.2 C296.4,340.2 299.5,337.5 300.0,337.5 C300.5,337.5 299.7,340.1 298.8,341.2 C297.8,342.4 293.8,346.4 292.5,347.0 C291.2,347.6 288.4,347.0 288.8,346.2Z" fill="rgba(20,20,0,0.13)"/>
<path d="M425.0,157.5 C425.5,156.6 427.8,154.4 428.8,153.8 C429.7,153.1 432.0,152.0 432.5,152.5 C433.0,153.0 433.2,156.1 433.0,157.5 C432.8,158.9 431.9,162.9 431.2,163.8 C430.6,164.6 428.3,164.8 427.5,164.5 C426.7,164.2 424.8,162.1 424.5,161.2 C424.2,160.4 424.5,158.4 425.0,157.5Z" fill="rgba(20,20,0,0.13)"/>
<path d="M443.8,232.5 C444.2,232.1 447.0,231.7 447.5,232.0 C448.0,232.3 448.4,234.6 448.0,235.0 C447.6,235.4 444.8,235.8 444.2,235.5 C443.7,235.2 443.3,232.9 443.8,232.5Z" fill="rgba(20,20,0,0.13)"/>
<path d="M192.5,342.5 C193.3,341.4 196.3,339.2 197.5,338.8 C198.7,338.3 201.7,338.0 202.0,338.8 C202.3,339.5 199.9,343.3 200.0,345.0 C200.1,346.7 203.0,351.4 202.5,352.5 C202.0,353.6 197.7,354.4 196.2,353.8 C194.8,353.1 191.7,348.9 191.2,347.5 C190.8,346.1 191.7,343.6 192.5,342.5Z" fill="rgba(20,20,0,0.13)"/>
<path d="M221.2,347.5 C221.6,346.8 224.8,345.2 225.5,345.5 C226.2,345.8 227.4,348.8 227.0,349.5 C226.6,350.2 223.2,351.8 222.5,351.5 C221.8,351.2 220.9,348.2 221.2,347.5Z" fill="rgba(20,20,0,0.13)"/>
<path d="M186.2,379.5 C186.9,378.7 191.2,378.1 192.0,378.8 C192.8,379.4 193.1,383.7 192.5,384.5 C191.9,385.3 187.8,385.6 187.0,385.0 C186.2,384.4 185.6,380.3 186.2,379.5Z" fill="rgba(20,20,0,0.13)"/>
<path d="M442.5,231.2 C443.1,230.9 446.9,231.5 447.5,232.0 C448.1,232.5 447.6,235.1 447.0,235.5 C446.4,235.9 443.6,235.5 443.0,235.0 C442.4,234.5 441.9,231.6 442.5,231.2Z" fill="rgba(20,20,0,0.13)"/>
<path d="M516.2,262.5 C516.7,261.9 519.7,262.8 520.0,263.8 C520.3,264.7 519.2,269.4 518.8,270.0 C518.3,270.6 516.6,269.7 516.2,268.8 C515.9,267.8 515.8,263.1 516.2,262.5Z" fill="rgba(20,20,0,0.13)"/>
<path d="M500.0,243.8 C499.8,245.2 498.4,251.7 498.0,255.0 C497.6,258.3 497.1,268.1 497.0,270.0" fill="none" stroke="rgba(20,20,0,0.085)" stroke-width="2.3" stroke-linecap="round"/>
<path d="M275.0,297.5 C275.4,298.4 279.2,302.8 278.0,305.0 C276.8,307.2 267.8,312.5 265.5,315.0 C263.2,317.5 260.7,323.8 260.0,325.0" fill="none" stroke="rgba(20,20,0,0.085)" stroke-width="1.3" stroke-linecap="round"/>
<path d="M255.0,167.5 C256.4,168.0 264.8,170.8 266.2,171.2" fill="none" stroke="rgba(20,20,0,0.085)" stroke-width="1.3" stroke-linecap="round"/>
<path d="M230.0,180.0 C229.9,180.6 229.6,183.9 229.5,184.5" fill="none" stroke="rgba(20,20,0,0.085)" stroke-width="1.3" stroke-linecap="round"/>
<path d="M296.2,145.0 C296.4,146.2 296.4,151.2 297.5,155.0 C298.6,158.8 302.8,170.5 305.0,175.0 C307.2,179.5 313.8,189.2 315.0,191.2" fill="none" stroke="rgba(20,20,0,0.085)" stroke-width="1.3" stroke-linecap="round"/>
<path d="M270.0,170.0 C270.9,172.8 275.9,187.5 277.5,192.5 C279.1,197.5 281.9,207.8 282.5,210.0" fill="none" stroke="rgba(20,20,0,0.085)" stroke-width="1.3" stroke-linecap="round"/>
<path d="M323.8,197.5 C325.8,199.1 337.0,207.0 340.0,210.0 C343.0,213.0 346.6,219.8 347.5,221.2" fill="none" stroke="rgba(20,20,0,0.085)" stroke-width="1.3" stroke-linecap="round"/>
<path d="M380.0,135.0 C380.6,138.8 384.1,157.8 385.0,165.0 C385.9,172.2 387.7,186.9 387.5,192.5 C387.3,198.1 384.2,207.8 383.8,210.0" fill="none" stroke="rgba(20,20,0,0.085)" stroke-width="1.3" stroke-linecap="round"/>
<path d="M400.0,135.0 C400.9,138.4 405.9,155.3 407.5,162.5 C409.1,169.7 412.5,185.6 412.5,192.5 C412.5,199.4 410.3,211.9 407.5,217.5 C404.7,223.1 392.2,235.0 390.0,237.5" fill="none" stroke="rgba(20,20,0,0.085)" stroke-width="1.3" stroke-linecap="round"/>
<path d="M413.8,136.2 C414.4,138.0 418.1,148.3 418.8,150.0" fill="none" stroke="rgba(20,20,0,0.085)" stroke-width="1.3" stroke-linecap="round"/>
<path d="M576.2,142.5 C575.5,144.1 571.7,151.9 570.0,155.0 C568.3,158.1 563.8,164.7 562.5,167.5 C561.2,170.3 561.9,175.2 560.0,177.5 C558.1,179.8 550.9,184.4 547.5,186.2 C544.1,188.1 534.8,190.9 532.5,192.5 C530.2,194.1 529.2,198.0 528.8,198.8" fill="none" stroke="rgba(20,20,0,0.085)" stroke-width="1.3" stroke-linecap="round"/>
<path d="M578.8,147.5 C578.3,149.1 575.6,155.9 575.0,160.0 C574.4,164.1 574.4,175.6 573.8,180.0 C573.1,184.4 571.4,191.9 570.0,195.0 C568.6,198.1 564.4,202.2 562.5,205.0 C560.6,207.8 556.6,215.2 555.0,217.5 C553.4,219.8 550.6,222.3 550.0,223.0" fill="none" stroke="rgba(20,20,0,0.085)" stroke-width="1.8" stroke-linecap="round"/>
<path d="M592.5,151.2 C591.2,152.0 584.2,155.8 582.5,157.5 C580.8,159.2 579.2,164.1 578.8,165.0" fill="none" stroke="rgba(20,20,0,0.085)" stroke-width="1.3" stroke-linecap="round"/>
<path d="M462.5,130.0 C462.8,131.9 463.1,140.9 465.0,145.0 C466.9,149.1 475.6,158.1 477.5,162.5 C479.4,166.9 479.2,176.2 480.0,180.0 C480.8,183.8 484.1,189.4 483.8,192.5 C483.4,195.6 478.8,200.3 477.5,205.0 C476.2,209.7 476.6,224.7 473.8,230.0 C470.9,235.3 457.7,243.8 455.0,247.5 C452.3,251.2 452.8,258.4 452.5,260.0" fill="none" stroke="rgba(20,20,0,0.085)" stroke-width="1.3" stroke-linecap="round"/>
<path d="M527.5,205.0 C525.9,206.9 518.1,216.9 515.0,220.0 C511.9,223.1 504.4,227.8 502.5,230.0 C500.6,232.2 500.3,236.6 500.0,237.5" fill="none" stroke="rgba(20,20,0,0.085)" stroke-width="1.3" stroke-linecap="round"/>
<path d="M547.5,225.0 C545.6,226.9 535.6,236.2 532.5,240.0 C529.4,243.8 524.4,251.6 522.5,255.0 C520.6,258.4 518.1,265.9 517.5,267.5" fill="none" stroke="rgba(20,20,0,0.085)" stroke-width="1.3" stroke-linecap="round"/>
<path d="M445.0,87.5 C446.1,89.7 452.3,100.9 453.8,105.0 C455.2,109.1 455.2,115.6 456.2,120.0 C457.3,124.4 460.2,135.0 462.5,140.0 C464.8,145.0 473.4,157.5 475.0,160.0" fill="none" stroke="rgba(20,20,0,0.085)" stroke-width="1.3" stroke-linecap="round"/>
<path d="M575.0,142.5 C574.1,143.4 568.9,147.5 567.5,150.0 C566.1,152.5 564.4,159.6 563.8,162.5 C563.1,165.4 562.7,171.7 562.5,173.0" fill="none" stroke="rgba(20,20,0,0.085)" stroke-width="1.3" stroke-linecap="round"/>
<path d="M597.5,150.0 C595.9,150.6 587.2,153.1 585.0,155.0 C582.8,156.9 580.6,163.8 580.0,165.0" fill="none" stroke="rgba(20,20,0,0.085)" stroke-width="1.3" stroke-linecap="round"/>
<path d="M255.0,330.0 C253.8,331.9 247.8,342.2 245.0,345.0 C242.2,347.8 234.7,350.3 232.5,352.5 C230.3,354.7 228.6,360.3 227.5,362.5 C226.4,364.7 225.9,368.9 223.8,370.0 C221.6,371.1 213.0,370.3 210.0,371.2 C207.0,372.2 201.2,376.7 200.0,377.5" fill="none" stroke="rgba(20,20,0,0.085)" stroke-width="1.3" stroke-linecap="round"/>
<path d="M282.5,352.5 C281.2,353.4 275.0,359.2 272.5,360.0 C270.0,360.8 265.6,357.8 262.5,358.8 C259.4,359.7 250.3,366.2 247.5,367.5 C244.7,368.8 242.5,367.5 240.0,368.8 C237.5,370.0 229.8,375.6 227.5,377.5 C225.2,379.4 222.3,381.6 221.2,383.8 C220.2,385.9 219.5,393.1 218.8,395.0 C218.0,396.9 215.5,398.3 215.0,398.8" fill="none" stroke="rgba(20,20,0,0.085)" stroke-width="1.5" stroke-linecap="round"/>
<path d="M281.2,411.2 C279.8,411.6 272.5,412.5 270.0,413.8 C267.5,415.0 262.8,418.9 261.2,421.2 C259.7,423.6 258.0,431.1 257.5,432.5" fill="none" stroke="rgba(20,20,0,0.085)" stroke-width="1.3" stroke-linecap="round"/>
<path d="M350.0,405.0 C349.8,406.2 348.1,412.5 348.8,415.0 C349.4,417.5 353.3,422.2 355.0,425.0 C356.7,427.8 361.1,435.3 362.5,437.5 C363.9,439.7 365.8,441.9 366.2,442.5" fill="none" stroke="rgba(20,20,0,0.085)" stroke-width="1.6" stroke-linecap="round"/>
<path d="M300.0,337.5 C299.1,338.6 294.1,345.0 292.5,346.2 C290.9,347.5 288.1,347.3 287.5,347.5" fill="none" stroke="rgba(20,20,0,0.085)" stroke-width="1.3" stroke-linecap="round"/>
<path d="M192.5,378.8 C194.1,378.3 202.8,376.1 205.0,375.0 C207.2,373.9 207.8,370.2 210.0,370.0 C212.2,369.8 219.7,375.6 222.5,373.8 C225.3,371.9 229.7,358.6 232.5,355.0 C235.3,351.4 242.2,348.1 245.0,345.0 C247.8,341.9 253.8,331.9 255.0,330.0" fill="none" stroke="rgba(20,20,0,0.085)" stroke-width="1.3" stroke-linecap="round"/>
<path d="M222.5,373.8 C222.2,375.5 220.8,384.4 220.0,387.5 C219.2,390.6 216.7,397.3 216.2,398.8" fill="none" stroke="rgba(20,20,0,0.085)" stroke-width="1.6" stroke-linecap="round"/>
<path d="M163.8,291.2 C165.2,289.8 171.7,281.9 175.0,280.0 C178.3,278.1 185.9,276.6 190.0,276.2 C194.1,275.9 205.3,276.9 207.5,277.0" fill="none" stroke="rgba(20,20,0,0.085)" stroke-width="1.3" stroke-linecap="round"/>
<path d="M171.2,297.5 C172.3,297.8 178.0,299.0 180.0,300.0 C182.0,301.0 186.1,304.8 187.0,305.5" fill="none" stroke="rgba(20,20,0,0.085)" stroke-width="1.7" stroke-linecap="round"/>
<path d="M475.0,230.0 C474.1,231.2 470.2,237.7 467.5,240.0 C464.8,242.3 455.8,245.9 453.8,248.8 C451.7,251.6 451.6,260.8 451.2,262.5" fill="none" stroke="rgba(20,20,0,0.085)" stroke-width="1.3" stroke-linecap="round"/>
<path d="M543.8,231.2 C542.0,232.7 533.0,239.2 530.0,242.5 C527.0,245.8 521.6,254.2 520.0,257.5 C518.4,260.8 517.8,267.3 517.5,268.8" fill="none" stroke="rgba(20,20,0,0.085)" stroke-width="1.3" stroke-linecap="round"/>
<path d="M505.0,230.0 C504.8,230.8 503.9,235.5 503.8,236.2" fill="none" stroke="rgba(20,20,0,0.085)" stroke-width="1.3" stroke-linecap="round"/>
<path d="M527.5,333.8 C526.4,333.1 528.9,330.1 530.0,329.5 C531.1,328.9 535.0,328.5 536.2,328.8 C537.5,329.0 539.7,330.5 540.0,331.2 C540.3,332.0 540.3,334.2 538.8,334.5 C537.2,334.8 528.6,334.4 527.5,333.8Z" fill="#fff"/>
<path d="M540.5,332.5 C539.7,332.0 542.6,329.4 543.8,329.0 C544.9,328.6 548.7,329.0 549.5,329.5 C550.3,330.0 551.1,332.6 550.0,333.0 C548.9,333.4 541.3,333.0 540.5,332.5Z" fill="#fff"/>
<path d="M568.0,310.5 C568.2,310.0 571.3,308.4 572.0,308.5 C572.7,308.6 573.8,310.5 573.5,311.0 C573.2,311.5 570.7,312.6 570.0,312.5 C569.3,312.4 567.8,311.0 568.0,310.5Z" fill="#fff"/>
<path d="M613.3,180.9 L605.6,183.5 L605.8,184.4 L613.9,183.9Z" fill="#fff"/>
<path d="M621.9,188.4 L608.2,187.8 L597.7,193.0 L598.1,193.8 L608.5,190.6 L621.4,193.1Z" fill="#fff"/>
<path d="M622.1,199.5 L609.5,200.9 L600.4,203.4 L600.6,204.3 L609.8,203.6 L622.3,204.0Z" fill="#fff"/>
<path d="M626.2,205.7 L616.0,211.2 L616.3,212.1 L627.6,209.3Z" fill="#fff"/>
<path d="M627.1,211.8 L620.5,214.1 L620.7,215.0 L627.7,214.7Z" fill="#fff"/>
<path d="M619.8,229.5 L603.9,226.0 L598.2,220.3 L597.5,220.8 L602.4,228.7 L618.3,234.6Z" fill="#fff"/>
<path d="M603.1,226.1 L588.2,226.9 L588.2,227.8 L603.1,228.5Z" fill="#fff"/>
<path d="M620.3,236.5 L609.6,239.0 L599.2,239.7 L599.2,240.6 L609.7,241.8 L621.0,241.2Z" fill="#fff"/>
<path d="M613.6,251.5 L601.8,254.3 L601.9,255.2 L614.0,255.4Z" fill="#fff"/>
<path d="M594.2,271.6 L584.5,266.4 L576.5,259.4 L575.9,260.1 L582.5,268.8 L591.1,276.1Z" fill="#fff"/>
<path d="M585.2,280.7 L577.3,276.6 L576.7,277.4 L582.9,283.8Z" fill="#fff"/>
<path d="M576.4,287.6 L570.8,283.2 L570.1,283.8 L573.9,289.9Z" fill="#fff"/>
<path d="M118.5,12.0 L131.8,42.0 L161.0,102.5 L158.5,144.5 L125.0,145.5 L100.0,149.0 L82.5,152.5 L66.0,153.0 L46.0,125.0 L36.0,111.0" fill="none" stroke="#fff" stroke-width="2.6" stroke-linejoin="round"/>
<path d="M158.5,144.5 L180.5,181.0 L181.0,247.5 L229.3,264.4 L272.5,227.5 L342.5,206.0 L425.0,182.5 L440.0,166.0 L459.0,167.2 L502.5,164.8 L568.8,256.0 L562.5,286.5 L505.0,315.0 L452.5,330.0 L387.5,337.5 L375.0,347.5 L335.0,432.5 L315.0,434.5 L295.0,431.0 L288.8,388.8 L279.5,371.0 L280.0,345.0 L252.5,323.8 L227.5,320.5 L210.0,296.0 L208.8,286.2 L229.3,264.4" fill="none" stroke="#fff" stroke-width="2.6" stroke-linejoin="round"/>
<path d="M181.0,247.5 L30.0,250.5" fill="none" stroke="#fff" stroke-width="2.6" stroke-linejoin="round"/>
<path d="M331.8,60.0 L331.8,162.5 L342.5,206.0" fill="none" stroke="#fff" stroke-width="2.6" stroke-linejoin="round"/>
<path d="M502.5,164.8 L496.0,126.0 L545.0,46.0" fill="none" stroke="#fff" stroke-width="2.6" stroke-linejoin="round"/>
<path d="M568.8,256.0 L594.5,175.0 L640.0,152.0" fill="none" stroke="#fff" stroke-width="2.6" stroke-linejoin="round"/>
<path d="M562.5,286.5 L600.0,302.0" fill="none" stroke="#fff" stroke-width="2.6" stroke-linejoin="round"/>
<path d="M315.0,434.5 L315.0,460.0" fill="none" stroke="#fff" stroke-width="2.6" stroke-linejoin="round"/>
<path d="M227.5,320.5 L100.0,392.5" fill="none" stroke="#fff" stroke-width="2.6" stroke-linejoin="round"/>
</g>
<path d="M373.3,34 L374.2,34.2 L375.2,38 L374.4,37.8 Z" fill="#cfcfcf"/>
<rect x="16.1" y="283" width="86.3" height="71.2" fill="#fff" stroke="#dcdcdc" stroke-width="1.4"/>
<clipPath id="ins"><rect x="17.6" y="284.5" width="83.2" height="68"/></clipPath>
<g clip-path="url(#ins)"><path d="M82.9,284.4 L82.9,286.6 L85.0,288.7 L83.6,291.6 L81.4,293.7 L82.1,296.6 L84.3,295.9 L87.1,293.7 L90.7,292.3 L92.9,291.6 L95.7,295.1 L92.9,296.6 L88.6,298.7 L84.3,301.6 L80.7,303.7 L76.4,305.1 L72.9,307.3 L72.1,310.9 L72.9,314.4 L75.7,317.3 L77.9,319.4 L76.4,320.1 L72.9,318.0 L70.7,316.6 L68.6,318.0 L67.9,315.9 L69.3,312.3 L68.6,308.7 L65.7,306.6 L62.1,305.9 L58.6,307.3 L54.3,308.7 L50.0,308.7 L46.4,306.6 L47.1,303.7 L45.0,304.4 L42.1,307.3 L39.3,308.0 L35.7,305.1 L32.9,303.0 L31.4,304.4 L28.6,306.6 L27.9,308.3 L30.7,307.3 L34.3,308.0 L37.9,310.1 L40.7,313.0 L42.1,316.6 L43.6,320.9 L47.1,323.7 L51.4,324.4 L55.0,324.0 L54.3,325.4 L50.0,325.9 L46.4,326.6 L47.9,328.7 L50.7,330.9 L53.6,331.6 L52.1,333.0 L49.3,333.0 L48.6,335.9 L45.0,336.6 L43.6,334.4 L41.4,333.0 L37.9,334.4 L34.3,335.1 L33.6,333.0 L36.4,330.9 L38.6,329.4 L40.7,327.3 L42.1,326.6 L40.7,325.9 L37.1,327.3 L35.0,329.4 L33.6,328.0 L36.4,325.1 L33.6,325.9 L30.0,328.0 L27.9,331.6 L27.1,334.4 L28.6,335.1 L27.1,336.6 L29.3,338.0 L32.1,337.3 L35.0,338.7 L37.9,343.0 L40.7,346.6 L42.9,350.1 L43.6,352.3 L100.7,352.3 L100.7,284.4Z" fill="#d6d6d6"/>
<path d="M71.4,298.0 L74.3,297.3 L78.6,299.4 L80.7,302.3 L78.6,303.4 L74.3,301.6 L71.7,299.7Z" fill="#d6d6d6"/>
<path d="M61.7,296.6 L64.3,296.3 L67.1,301.6 L69.3,304.4 L67.9,305.4 L65.0,302.3 L62.6,299.4Z" fill="#d6d6d6"/>
<path d="M50.7,296.6 L51.7,296.3 L53.6,299.7 L52.6,300.3Z" fill="#d6d6d6"/>
<path d="M42.1,297.3 L43.0,297.1 L43.3,299.4 L42.4,299.4Z" fill="#d6d6d6"/>
<path d="M77.9,290.9 L80.0,290.6 L80.7,292.6 L78.6,293.0Z" fill="#d6d6d6"/>
</g>
<g transform="translate(106.2,99.4)"><circle r="10.8" fill="#fff" filter="url(#sh)"/><circle r="9.45" fill="#fbe115"/><path d="M-5.15,-3.9 L-5.15,8.3" stroke="#9c3a2e" stroke-width="0.8" fill="none"/><path d="M-4.3,-3.7 L-1.3,-5.3 L8.7,1.9 L6.9,5.3 L-4.3,0.4 Z" fill="#111"/><path d="M1.6,-3.6 L2.7,-2.8 L0.8,2.9 L-0.3,2.4 Z M5.6,-0.7 L6.7,0.1 L4.9,4.6 L3.8,4.1 Z" fill="#f7d51a"/></g>
<g transform="translate(242.5,161.5)"><circle r="11.1" fill="#fff" filter="url(#sh)"/><circle r="9.45" fill="#ee7f21"/><path d="M-5.15,-3.9 L-5.15,8.3" stroke="#fde3c4" stroke-width="0.8" fill="none"/><path d="M-4.3,-3.7 L-1.3,-5.3 L8.7,1.9 L6.9,5.3 L-4.3,0.4 Z" fill="#fff"/><path d="M1.6,-3.6 L2.7,-2.8 L0.8,2.9 L-0.3,2.4 Z M5.6,-0.7 L6.7,0.1 L4.9,4.6 L3.8,4.1 Z" fill="#ef8a2c"/></g>
<g transform="translate(150.5,206.5)"><circle r="11.1" fill="#fff" filter="url(#sh)"/><circle r="9.45" fill="#ee7f21"/><path d="M-5.15,-3.9 L-5.15,8.3" stroke="#fde3c4" stroke-width="0.8" fill="none"/><path d="M-4.3,-3.7 L-1.3,-5.3 L8.7,1.9 L6.9,5.3 L-4.3,0.4 Z" fill="#fff"/><path d="M1.6,-3.6 L2.7,-2.8 L0.8,2.9 L-0.3,2.4 Z M5.6,-0.7 L6.7,0.1 L4.9,4.6 L3.8,4.1 Z" fill="#ef8a2c"/></g>
<g transform="translate(422.2,121.6)"><circle r="11.1" fill="#fff" filter="url(#sh)"/><circle r="9.45" fill="#ee7f21"/><path d="M-5.15,-3.9 L-5.15,8.3" stroke="#fde3c4" stroke-width="0.8" fill="none"/><path d="M-4.3,-3.7 L-1.3,-5.3 L8.7,1.9 L6.9,5.3 L-4.3,0.4 Z" fill="#fff"/><path d="M1.6,-3.6 L2.7,-2.8 L0.8,2.9 L-0.3,2.4 Z M5.6,-0.7 L6.7,0.1 L4.9,4.6 L3.8,4.1 Z" fill="#ef8a2c"/></g>
<g transform="translate(385.0,277.0)"><circle r="10.8" fill="#fff" filter="url(#sh)"/><circle r="9.45" fill="#fbe115"/><path d="M-5.15,-3.9 L-5.15,8.3" stroke="#9c3a2e" stroke-width="0.8" fill="none"/><path d="M-4.3,-3.7 L-1.3,-5.3 L8.7,1.9 L6.9,5.3 L-4.3,0.4 Z" fill="#111"/><path d="M1.6,-3.6 L2.7,-2.8 L0.8,2.9 L-0.3,2.4 Z M5.6,-0.7 L6.7,0.1 L4.9,4.6 L3.8,4.1 Z" fill="#f7d51a"/></g>
<g transform="translate(434.5,371.0)"><circle r="10.8" fill="#fff" filter="url(#sh)"/><circle r="9.45" fill="#fbe115"/><path d="M-5.15,-3.9 L-5.15,8.3" stroke="#9c3a2e" stroke-width="0.8" fill="none"/><path d="M-4.3,-3.7 L-1.3,-5.3 L8.7,1.9 L6.9,5.3 L-4.3,0.4 Z" fill="#111"/><path d="M1.6,-3.6 L2.7,-2.8 L0.8,2.9 L-0.3,2.4 Z M5.6,-0.7 L6.7,0.1 L4.9,4.6 L3.8,4.1 Z" fill="#f7d51a"/></g>
</svg>
<div class="abs h1">Viðvaranir</div>
<div class="abs reg">Norðurland eystra</div>

<!-- item 1 -->
<svg class="ic" width="22" height="22" viewBox="-11 -11 22 22" style="top:25.2px;filter:drop-shadow(0 1px 1px rgba(0,0,0,0.25))"><g transform="translate(0.0,0.0)"><circle r="9.45" fill="#fbe115"/><path d="M-5.15,-3.9 L-5.15,8.3" stroke="#9c3a2e" stroke-width="0.8" fill="none"/><path d="M-4.3,-3.7 L-1.3,-5.3 L8.7,1.9 L6.9,5.3 L-4.3,0.4 Z" fill="#111"/><path d="M1.6,-3.6 L2.7,-2.8 L0.8,2.9 L-0.3,2.4 Z M5.6,-0.7 L6.7,0.1 L4.9,4.6 L3.8,4.1 Z" fill="#f7d51a"/></g></svg>
<div class="abs ttl" style="top:28.6px">Suðvestan hvassviðri eða stormur <small>(Gult ástand)</small></div>
<svg class="chev" style="top:31px" width="12" height="8" viewBox="0 0 12 8"><path d="M1,7 L6,2 L11,7" fill="none" stroke="#555" stroke-width="1.4"/></svg>
<div class="abs dt" style="top:51px">25 jún. kl. 00:00 – 17:00</div>
<div class="abs bd" style="top:64.7px">Suðvestan hvassviðri eða stormur, 18-25 m/s á<br>svæðinu í kringum Eyjafjörð. Búast má við mjög<br>snörpum vindhviðum við fjöll, staðbundið yfir 30<br>m/s. Aðstæður geta verið varhugaverðar fyrir<br>vegfarendur...</div>
<div class="abs more" style="top:167.2px">Sjá meira <b>+</b></div>
<div class="hr" style="top:194px"></div>

<!-- item 2 -->
<svg class="ic" width="22" height="22" viewBox="-11 -11 22 22" style="top:203.4px;filter:drop-shadow(0 1px 1px rgba(0,0,0,0.25))"><g transform="translate(0.0,0.0)"><circle r="9.45" fill="#ee7f21"/><path d="M-5.15,-3.9 L-5.15,8.3" stroke="#fde3c4" stroke-width="0.8" fill="none"/><path d="M-4.3,-3.7 L-1.3,-5.3 L8.7,1.9 L6.9,5.3 L-4.3,0.4 Z" fill="#fff"/><path d="M1.6,-3.6 L2.7,-2.8 L0.8,2.9 L-0.3,2.4 Z M5.6,-0.7 L6.7,0.1 L4.9,4.6 L3.8,4.1 Z" fill="#ef8a2c"/></g></svg>
<div class="abs ttl" style="top:206px">Suðvestan stormur <small>(Appelsínugult ástand)</small></div>
<svg class="chev" style="top:211px" width="12" height="8" viewBox="0 0 12 8"><path d="M1,7 L6,2 L11,7" fill="none" stroke="#555" stroke-width="1.4"/></svg>
<div class="abs dt" style="top:229px">25 jún. kl. 17:00 – 26 jún. kl. 11:00</div>
<div class="abs bd" style="top:243px">Suðvestan stormur, 18-25 m/s á austanverðum<br>Tröllaskaga og við Eyjafjörð. Vindhviður allt að 40<br>m/s. Ekkert ferðaveður fyrir ferðahýsi eða<br>húsbíla, einnig getur verið mjög erfitt að vera í<br>tjaldi í...</div>
<div class="abs more" style="top:344.7px">Sjá meira <b>+</b></div>
<div class="hr" style="top:371px"></div>

<!-- item 3 -->
<svg class="ic" width="22" height="22" viewBox="-11 -11 22 22" style="top:380px;filter:drop-shadow(0 1px 1px rgba(0,0,0,0.25))"><g transform="translate(0.0,0.0)"><circle r="9.45" fill="#fbe115"/><path d="M-5.15,-3.9 L-5.15,8.3" stroke="#9c3a2e" stroke-width="0.8" fill="none"/><path d="M-4.3,-3.7 L-1.3,-5.3 L8.7,1.9 L6.9,5.3 L-4.3,0.4 Z" fill="#111"/><path d="M1.6,-3.6 L2.7,-2.8 L0.8,2.9 L-0.3,2.4 Z M5.6,-0.7 L6.7,0.1 L4.9,4.6 L3.8,4.1 Z" fill="#f7d51a"/></g></svg>
<div class="abs ttl" style="top:383px">Suðvestan hvassviðri <small>(Gult ástand)</small></div>
<svg class="chev" style="top:389px" width="12" height="8" viewBox="0 0 12 8"><path d="M1,7 L6,2 L11,7" fill="none" stroke="#555" stroke-width="1.4"/></svg>
<div class="abs dt" style="top:406px">26 jún. kl. 11:00 – 15:00</div>
<div class="abs bd" style="top:420px">Suðvestan 15-20 m/s og vindhviður að 30 m/s.<br>Slæm skilyrði til ferðalaga með aftanívagna eða á<br>bílum sem taka á sig mikinn vind.</div>
<div class="abs more" style="top:486px">Sjá meira <b>+</b></div>

<div class="abs upd">Uppfært 12:06</div>

<!-- timeline -->
<div class="tl"></div>
<div style="position:absolute;left:978px;top:516px;width:10px;height:58px;background:linear-gradient(to right,rgba(255,255,255,0),#cfcfcf);"></div>
<div class="btn"><span>Allir tímar</span></div>
<div class="sep" style="left:460.7px"></div>
<div class="sep" style="left:606.7px"></div>
<div class="sep" style="left:752.7px"></div>
<div class="sep" style="left:898.7px"></div>
<div class="abs day" style="left:503.8px">föstudagur</div>
<div class="abs day" style="left:645px">laugardagur</div>
<div class="abs day" style="left:791px">sunnudagur</div>
<div class="abs day" style="left:939px">mánudagur</div>
<!-- bar -->
<div style="position:absolute;left:459px;top:553.2px;width:530px;height:3.7px;background:#62bde0;"></div>
<div style="position:absolute;left:459px;top:550px;width:2px;height:10px;background:#8fd0ea;"></div>
<div class="tick" style="left:496.80px"></div><div class="tick" style="left:533.30px"></div><div class="tick" style="left:569.80px"></div><div class="tick" style="left:642.80px"></div><div class="tick" style="left:679.30px"></div><div class="tick" style="left:715.80px"></div><div class="tick" style="left:788.80px"></div><div class="tick" style="left:825.30px"></div><div class="tick" style="left:861.80px"></div><div class="tick" style="left:934.80px"></div><div class="tick" style="left:971.30px"></div>
<div style="position:absolute;left:460.5px;top:550px;width:67.3px;height:10px;background:rgba(252,226,0,0.72);border:1px solid #fbe425;box-sizing:border-box;"></div>
<div style="position:absolute;left:527.8px;top:550px;width:146.9px;height:10px;background:rgba(237,127,45,0.70);border:1px solid #ee8434;box-sizing:border-box;"></div>
<div style="position:absolute;left:674.7px;top:550px;width:42.1px;height:10px;background:rgba(252,226,0,0.72);border:1px solid #fbe425;box-sizing:border-box;"></div>
<!-- slider -->
<div style="position:absolute;left:412.3px;top:518px;width:3px;height:56px;background:rgba(184,168,154,0.62);"></div>
<svg style="position:absolute;left:403px;top:504px" width="22" height="26" viewBox="0 0 22 26"><circle cx="10.75" cy="10.5" r="8" fill="#b8a99a"/><path d="M7.5,17 L14,17 L10.75,23 Z" fill="#b8a99a"/></svg>
<div style="position:absolute;left:988px;top:510px;width:4px;height:64px;background:#fff;"></div>
<!-- nav buttons -->
<div class="nav" style="left:17px;border-radius:3px 0 0 3px;"><svg width="30" height="30" viewBox="0 0 30 30"><path d="M9,15 L19,9.5 L19,20.5 Z" fill="#fff"/></svg></div>
<div class="nav" style="left:948px;border-radius:0 3px 3px 0;"><svg width="30" height="30" viewBox="0 0 30 30"><path d="M21,15 L11,9.5 L11,20.5 Z" fill="#fff"/></svg></div>
</body></html>
